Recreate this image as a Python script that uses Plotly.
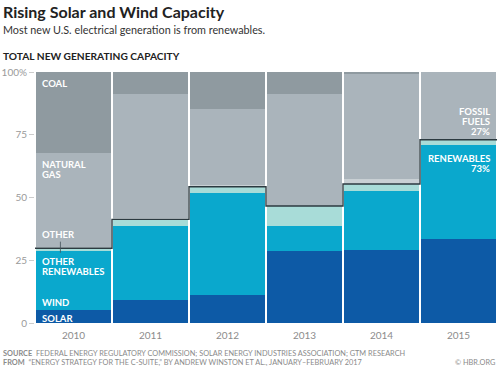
import plotly.graph_objects as go

years = ["2010", "2011", "2012", "2013", "2014", "2015"]
solar = [5.3, 9.3, 11.2, 28.5, 28.9, 33.5]
wind = [23.2, 29.4, 40.5, 10.2, 23.7, 37.4]
other_renewables = [1.3, 2.6, 2.6, 7.9, 2.8, 2.1]
other = [0.4, 0.4, 0.5, 0.0, 2.0, 0.0]
natural_gas = [37.6, 49.4, 30.3, 44.5, 41.8, 27.0]
coal = [32.2, 8.9, 14.9, 8.9, 0.8, 0.0]
y_ticks = [0, 25, 50, 75, 100]
y_tick_labels = ["0", "25", "50", "75", "100%"]

FONT = "Lato"
xpos = list(range(len(years)))

series = [
    ("Solar", solar, "#0d5aa6"),
    ("Wind", wind, "#0aa8cd"),
    ("Other renewables", other_renewables, "#a8dcd8"),
    ("Other", other, "#c9d0d4"),
    ("Natural gas", natural_gas, "#aab4bb"),
    ("Coal", coal, "#8f9aa0"),
]

fig = go.Figure()
for name, vals, col in series:
    fig.add_trace(go.Bar(x=xpos, y=vals, name=name, marker_color=col,
                         marker_line_width=0, width=0.98, hoverinfo="skip"))

ren_total = [s + w + o for s, w, o in zip(solar, wind, other_renewables)]
step_x = [i - 0.5 for i in xpos] + [xpos[-1] + 0.5]
step_y = ren_total + [ren_total[-1]]
fig.add_trace(go.Scatter(x=step_x, y=step_y, mode="lines", line_shape="hv",
                         line=dict(color="#2c3a40", width=1.4), hoverinfo="skip"))

fig.update_layout(
    width=500, height=368, barmode="stack", bargap=0,
    margin=dict(l=35, r=3, t=72, b=45),
    paper_bgcolor="white", plot_bgcolor="white", showlegend=False,
    font=dict(family=FONT),
)
fig.update_xaxes(range=[-0.5, 5.5], tickvals=xpos, ticktext=years, showgrid=False,
                 zeroline=False, showline=False, ticks="", ticklabelstandoff=5,
                 tickfont=dict(size=10, color="#8c8c8c", family=FONT))
fig.update_yaxes(range=[0, 100], tickvals=y_ticks, ticktext=y_tick_labels, showgrid=False,
                 zeroline=False, showline=False, ticks="outside", ticklen=5,
                 tickcolor="#cccccc", tickfont=dict(size=10, color="#9a9a9a", family=FONT))

ann = []
def paper_text(x, y, text, size, color, bold=False, xanchor="left"):
    ann.append(dict(xref="paper", yref="paper", x=x, y=y, text=(f"<b>{text}</b>" if bold else text),
                    showarrow=False, xanchor=xanchor, yanchor="middle",
                    font=dict(size=size, color=color, family=FONT)))

def px_x(p):
    return (p - 35) / 462

def px_y(p):
    return (323 - p) / 251

paper_text(px_x(1), px_y(11), "Rising Solar and Wind Capacity", 16, "#222222", bold=True)
paper_text(px_x(1), px_y(30), "Most new U.S. electrical generation is from renewables.", 10.8, "#333333")
paper_text(px_x(1), px_y(56), "TOTAL NEW GENERATING CAPACITY", 10.2, "#222222", bold=True)
paper_text(px_x(1), px_y(353), "<b>SOURCE</b>  FEDERAL ENERGY REGULATORY COMMISSION; SOLAR ENERGY INDUSTRIES ASSOCIATION; GTM RESEARCH", 7.35, "#8a8a8a")
paper_text(px_x(1), px_y(362), "<b>FROM</b>  \u201cENERGY STRATEGY FOR THE C-SUITE,\u201d BY ANDREW WINSTON ET AL., JANUARY\u2013FEBRUARY 2017", 7.35, "#8a8a8a")
paper_text(px_x(497), px_y(362), "\u00a9 HBR.ORG", 7.35, "#8a8a8a", xanchor="right")

def data_label(xv, lines, text_px_rows, xanchor="left", xshift=5):
    for txt, row in zip(lines, text_px_rows):
        ann.append(dict(xref="x", yref="paper", x=xv, y=px_y(row), text=f"<b>{txt}</b>",
                        showarrow=False, xanchor=xanchor, yanchor="middle", xshift=xshift,
                        font=dict(size=9.5, color="white", family=FONT)))

data_label(-0.5, ["COAL"], [84])
data_label(-0.5, ["NATURAL", "GAS"], [164.5, 174.5])
data_label(-0.5, ["OTHER"], [234])
data_label(-0.5, ["OTHER", "RENEWABLES"], [261.5, 271.5])
data_label(-0.5, ["WIND"], [302])
data_label(-0.5, ["SOLAR"], [318])
data_label(5.5, ["FOSSIL", "FUELS", "27%"], [111, 121, 131], xanchor="right", xshift=-5)
data_label(5.5, ["RENEWABLES", "73%"], [158, 168], xanchor="right", xshift=-5)

ann.append(dict(xref="x", yref="y", x=-0.17, y=28.0, ax=-0.17, ay=33.0, axref="x", ayref="y",
                text="", showarrow=True, arrowhead=0, arrowwidth=0.8, arrowcolor="#44525a"))

fig.update_layout(annotations=ann)
fig.write_html("out.html", config={"displayModeBar": False},
               post_script="document.body.style.margin='0';document.body.style.overflow='hidden';")
